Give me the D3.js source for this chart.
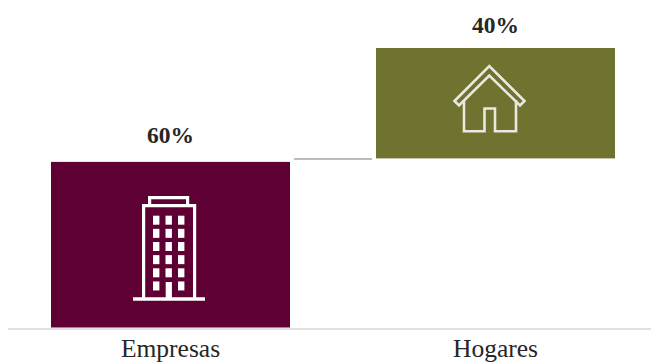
<!DOCTYPE html>
<html lang="es">
<head>
<meta charset="utf-8">
<script src="https://cdn.jsdelivr.net/npm/d3@7"></script>
<style>
  html, body { margin: 0; padding: 0; background: #fff; }
  svg { display: block; }
  text { font-family: "Liberation Serif", serif; fill: #262626; }
</style>
</head>
<body>
<div id="chart"></div>
<script>
const categories = ["Empresas", "Hogares"];
const shares = [60, 40];
const barColors = ["#5f0034", "#70722f"];
const shareLabels = ["60%", "40%"];

const width = 651, height = 363;
const baseline = 327.5;
const stepGap = 3.5;           // small lift between a step and the one before it

const svg = d3.select("#chart").append("svg")
  .attr("width", width).attr("height", height);

const x = d3.scaleBand().domain(categories).range([8, 658]).paddingInner(0.2646).paddingOuter(0.1323);
const y = d3.scaleLinear().domain([0, 100]).range([baseline, baseline - 276]);

// cumulative start of each step
const starts = d3.cumsum([0, ...shares.slice(0, -1)]);
const steps = categories.map((c, i) => ({
  category: c, start: starts[i], end: starts[i] + shares[i],
  color: barColors[i], label: shareLabels[i], lift: i * stepGap
}));

// bars
svg.selectAll("rect.step").data(steps).join("rect")
  .attr("class", "step")
  .attr("x", d => x(d.category))
  .attr("width", x.bandwidth())
  .attr("y", d => y(d.end) - d.lift)
  .attr("height", d => y(d.start) - y(d.end))
  .attr("fill", d => d.color);

// connector between the two steps
svg.append("line")
  .attr("x1", x(categories[0]) + x.bandwidth() + 4)
  .attr("x2", x(categories[1]) - 4)
  .attr("y1", y(shares[0]) - 3).attr("y2", y(shares[0]) - 3)
  .attr("stroke", "#bcbcc0").attr("stroke-width", 2);

// value labels
svg.selectAll("text.value").data(steps).join("text")
  .attr("class", "value")
  .attr("x", d => x(d.category) + x.bandwidth() / 2)
  .attr("y", d => y(d.end) - 19)
  .attr("text-anchor", "middle")
  .attr("font-size", 23.5).attr("font-weight", 700)
  .text(d => d.label);

// category axis
const axis = svg.append("g").attr("transform", `translate(0,329)`)
  .call(d3.axisBottom(x).tickSize(0).tickPadding(10));
axis.select(".domain").attr("d", "M8,0H651").attr("stroke", "#e1e1e1").attr("stroke-width", 2);
axis.selectAll("text").attr("font-size", 25.5).attr("font-family", "Liberation Serif");

// office tower icon
const tower = svg.append("g").attr("fill", "none").attr("stroke", "#fff");
tower.append("path").attr("stroke-width", 3.2)
  .attr("d", "M143.6,299V205.6H194.6V299M149.6,205V197.6H187.6V205");
tower.append("path").attr("stroke-width", 3.4).attr("d", "M133,299H205");
const windowCols = d3.range(3), windowRows = d3.range(6);
windowRows.forEach(r => windowCols.forEach(c => {
  if (r === 5 && c === 1) return;
  tower.append("rect").attr("x", 153 + c * 12.5).attr("y", 215.7 + r * 13.15)
    .attr("width", 6.4).attr("height", 9).attr("fill", "#fff").attr("stroke", "none");
}));
tower.append("rect").attr("x", 165.7).attr("y", 282).attr("width", 6.2).attr("height", 16)
  .attr("fill", "#fff").attr("stroke", "none");

// house icon
const house = svg.append("g").attr("fill", "none").attr("stroke", "#e9e9e2").attr("stroke-width", 2.6);
house.append("path").attr("d", "M454.5,101L489.3,66L524.5,101L520,105.5L489.3,75.5L459,105.5Z");
house.append("path").attr("d", "M464,100V131.2H484.5V108.5H495V131.2H516V100");
</script>
</body>
</html>
